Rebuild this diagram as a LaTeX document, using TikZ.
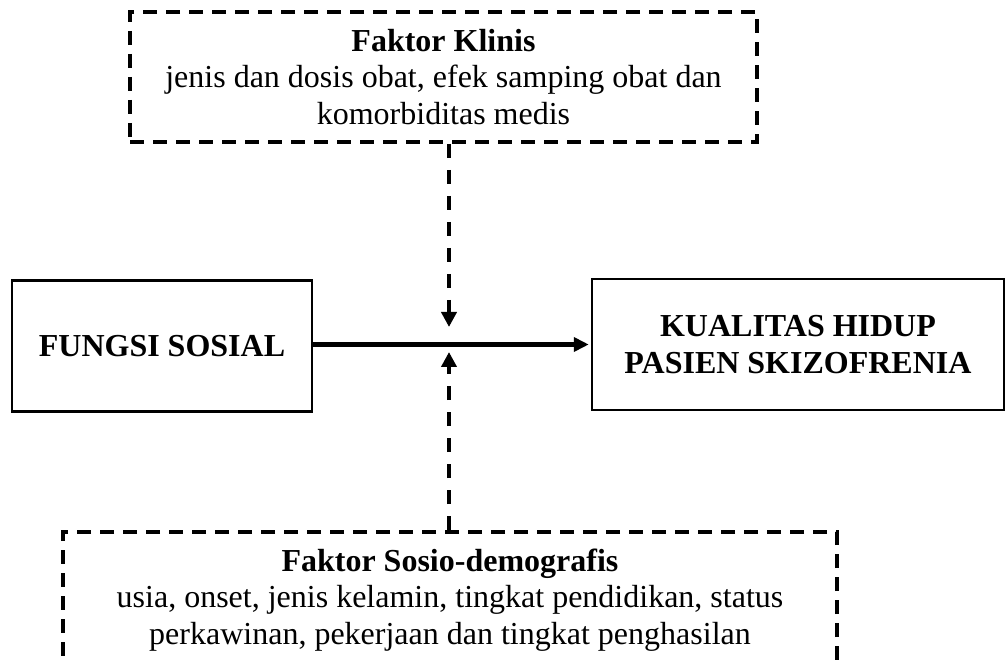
\documentclass[tikz,border=0pt]{standalone}
\usepackage{fontspec}
\setmainfont{Liberation Serif}
\usepackage{tikz}
\usetikzlibrary{arrows.meta}

\begin{document}
\begin{tikzpicture}[x=1pt, y=-1pt,
    font=\fontsize{32}{36.5}\selectfont,
    solidbox/.style={draw, line width=2.5pt, align=center, inner sep=0pt,
        font=\fontsize{32}{36.5}\selectfont\bfseries},
    dashbox/.style={draw, line width=4pt, dash pattern=on 14pt off 9pt,
        align=center, inner sep=0pt},
    dasharrow/.style={line width=4.5pt, dash pattern=on 14pt off 12pt,
        -{Triangle[length=15pt,width=15pt]}}]
    \useasboundingbox (0,0) rectangle (1007,660);
    \node[solidbox, minimum width=300pt, minimum height=131pt] (fungsi) at (162,346) {FUNGSI SOSIAL};
    \node[solidbox, minimum width=412pt, minimum height=131pt] (kualitas) at (798,344.5) {KUALITAS HIDUP\\PASIEN SKIZOFRENIA};
    \node[dashbox, minimum width=627pt, minimum height=130pt] (klinis) at (443.5,77)
        {\textbf{Faktor Klinis}\\jenis dan dosis obat, efek samping obat dan\\komorbiditas medis};
    \node[dashbox, minimum width=774pt, minimum height=136pt] (sosio) at (450,600)
        {\textbf{Faktor Sosio-demografis}\\usia, onset, jenis kelamin, tingkat pendidikan, status\\perkawinan, pekerjaan dan tingkat penghasilan};
    \coordinate (tipatas) at (449,327);
    \coordinate (tipbawah) at (449,352);
    \draw[line width=4.5pt, -{Triangle[length=15pt,width=14pt]}, shorten >=2pt]
        (fungsi.east |- kualitas.west) -- (kualitas.west);
    \draw[dasharrow] (klinis.south -| tipatas) -- (tipatas);
    \draw[dasharrow] (sosio.north -| tipbawah) -- (tipbawah);
\end{tikzpicture}
\end{document}
